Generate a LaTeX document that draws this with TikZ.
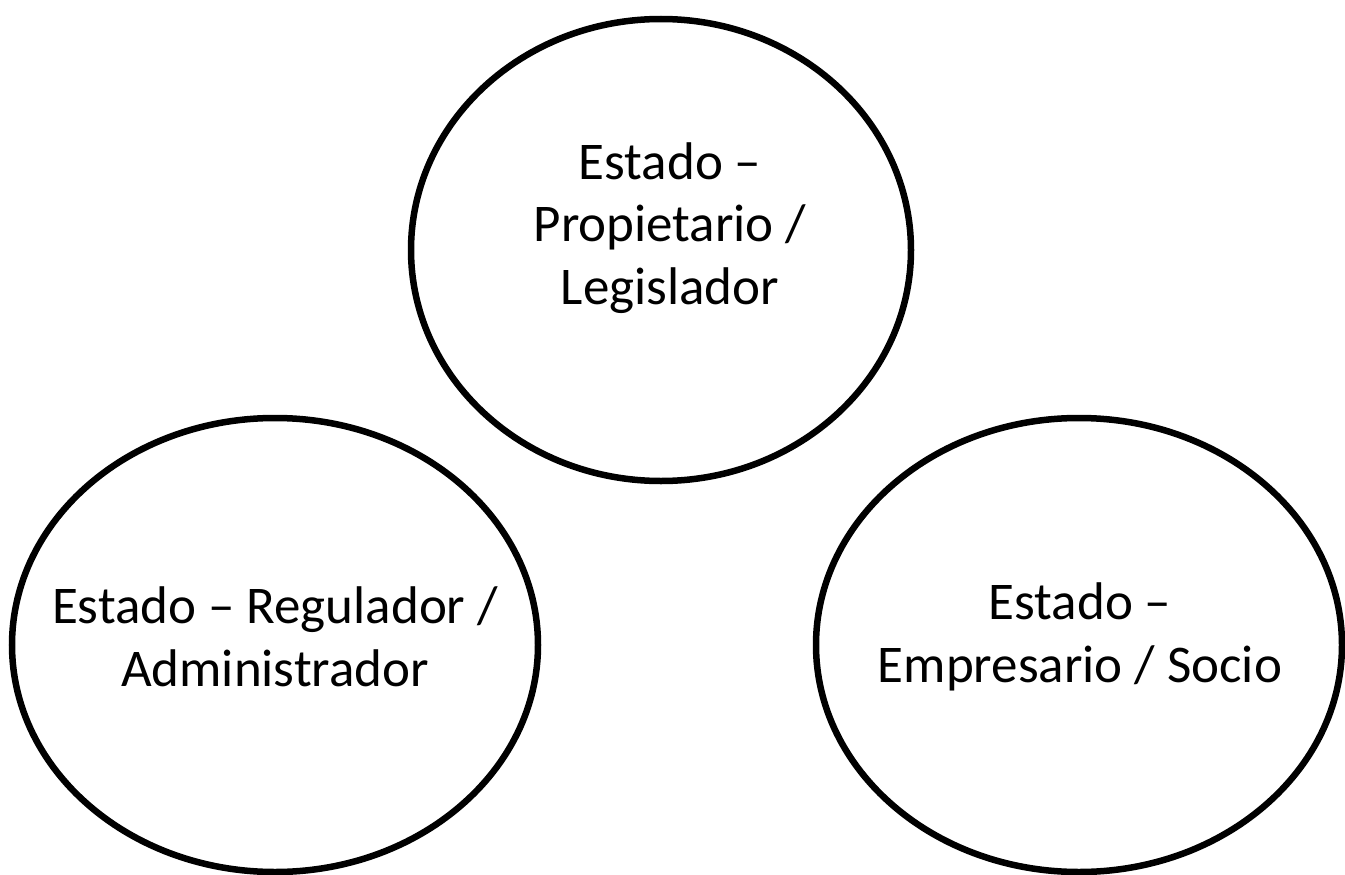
\documentclass[tikz,border=0pt]{standalone}
\usepackage{fontspec}
\setmainfont{Carlito}
\usetikzlibrary{shapes.geometric}
\tikzset{
  role/.style={ellipse, draw=black, line width=6.5pt, inner sep=0pt, fill=white},
  label/.style={align=center, font=\fontsize{53}{62.5}\selectfont, inner sep=0pt}
}
\begin{document}
\begin{tikzpicture}[x=1pt,y=-1pt]
\useasboundingbox (0,0) rectangle (1345,875);
\fill[white] (0,0) rectangle (1345,875);
\node[role, minimum width=500pt, minimum height=462pt] (top) at (661,250) {};
\node[role, minimum width=526pt, minimum height=454pt] (left) at (275,645) {};
\node[role, minimum width=526pt, minimum height=454pt] (right) at (1079,645) {};
\node[label] (toptext) at (670,228) {Estado –\\Propietario /\\Legislador};
\node[label] (lefttext) at (275,637) {Estado – Regulador /\\Administrador};
\node[label] (righttext) at (1080,637) {Estado –\\Empresario / Socio};
\end{tikzpicture}
\end{document}
